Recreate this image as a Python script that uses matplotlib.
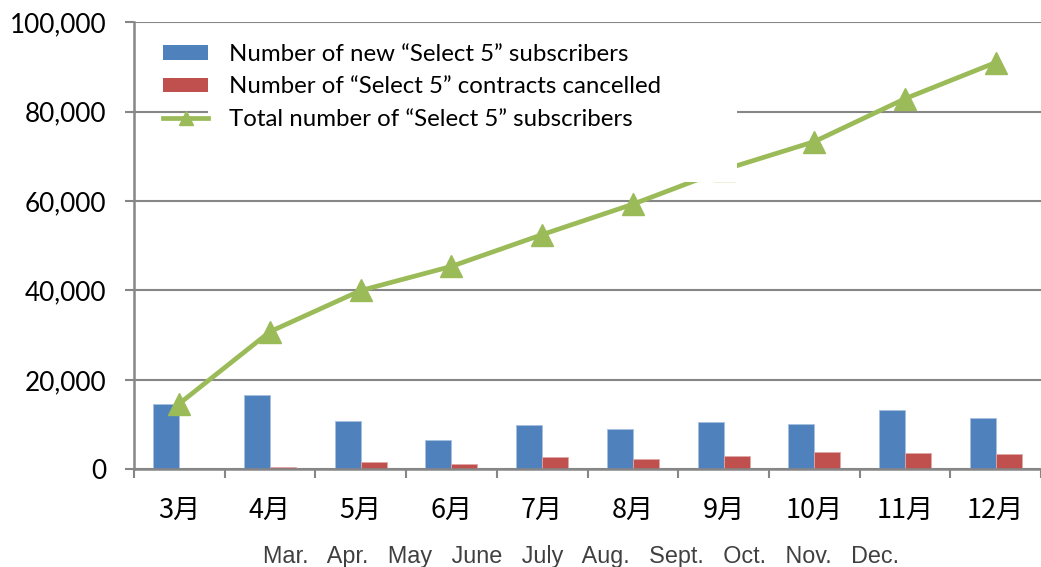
import matplotlib
matplotlib.use("Agg")
import matplotlib.pyplot as plt
import numpy as np
from matplotlib.patches import Rectangle
from matplotlib.lines import Line2D
from matplotlib.patches import Patch

months_jp = ["3月", "4月", "5月", "6月", "7月", "8月", "9月", "10月", "11月", "12月"]
months_en = ["Mar.", "Apr.", "May", "June", "July", "Aug.", "Sept.", "Oct.", "Nov.", "Dec."]
new_subs = [14700, 16600, 10800, 6500, 9800, 9000, 10600, 10200, 13200, 11500]
cancelled = [0, 500, 1600, 1100, 2700, 2300, 3000, 3900, 3600, 3400]
total_subs = [14700, 30800, 40000, 45400, 52500, 59300, 67000, 73300, 82900, 91000]
yticks = [0, 20000, 40000, 60000, 80000, 100000]

BLUE = "#4F81BD"
RED = "#C0504D"
GREEN = "#9BBB59"
GRID = "#868686"

plt.rcParams['font.family'] = ['Lato', 'Noto Sans CJK JP', 'DejaVu Sans']

fig = plt.figure(figsize=(10.41, 5.67), dpi=100)
W, H = 1041, 567
ax = fig.add_axes([134 / W, 1 - 469.3 / H, (1041 - 134) / W, (469.3 - 22.3) / H])

x = np.arange(len(months_jp))
bw = 0.287
ax.bar(x - bw / 2, new_subs, bw, color=BLUE, edgecolor="#A7C0DE", linewidth=0.6, zorder=2)
ax.bar(x + bw / 2, cancelled, bw, color=RED, edgecolor="#E0A8A6", linewidth=0.6, zorder=2)
ax.plot(x, total_subs, color=GREEN, lw=3.4, marker="^", markersize=16, zorder=3,
        solid_capstyle="round")

ax.set_xlim(-0.5, len(months_jp) - 0.5)
ax.set_ylim(0, 100000)
ax.set_yticks(yticks)
ax.set_yticklabels([f"{v:,}" for v in yticks], fontsize=18.8)
ax.yaxis.grid(True, color=GRID, lw=1.5, zorder=0)
ax.set_axisbelow(True)

ax.set_xticks(x)
ax.set_xticklabels(months_jp, fontsize=19.5, family=['Noto Sans CJK JP', 'DejaVu Sans'])
ax.set_xticks(np.arange(-0.5, len(months_jp), 1.0), minor=True)
ax.tick_params(axis='x', which='major', length=0, pad=20)
ax.tick_params(axis='x', which='minor', length=6.5, width=1.5, color=GRID, direction='out')
ax.tick_params(axis='y', length=6.5, width=1.5, color=GRID, pad=13.5)

for s in ["top", "right"]:
    ax.spines[s].set_visible(False)
for s in ["left", "bottom"]:
    ax.spines[s].set_color(GRID)
    ax.spines[s].set_linewidth(1.8)

# white legend background
ax.add_patch(Rectangle(((208 - 134) / 907, (469.3 - 182) / 447), (737 - 208) / 907,
                       (182 - 30) / 447, transform=ax.transAxes, facecolor="white",
                       edgecolor="none", zorder=4))

handles = [Patch(facecolor=BLUE, edgecolor="none"),
           Patch(facecolor=RED, edgecolor="none"),
           Line2D([], [], color=GREEN, lw=3.4, marker="^", markersize=10)]
labels = ["Number of new “Select 5” subscribers",
          "Number of “Select 5” contracts cancelled",
          "Total number of “Select 5” subscribers"]
leg = ax.legend(handles, labels, loc="upper left", bbox_to_anchor=((163 - 134) / 907, (469.3 - 44) / 447),
                frameon=False, fontsize=17.3, handlelength=1.875, handleheight=0.54,
                handletextpad=0.875, labelspacing=0.47, borderpad=0, borderaxespad=0)
leg.set_zorder(5)

fig.text(263 / W, 1 - 556 / H, "   ".join(months_en), family="Liberation Sans",
         fontsize=16.8, color="#404040", ha="left", va="center")

fig.savefig("out.png", dpi=100)
